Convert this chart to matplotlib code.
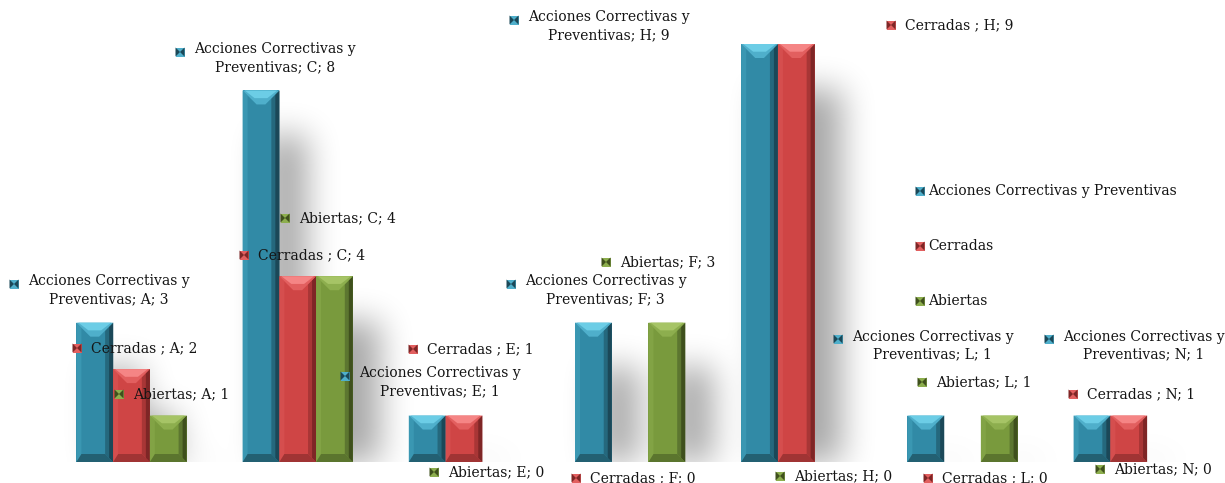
import numpy as np
import matplotlib
matplotlib.use("Agg")
import matplotlib.pyplot as plt
from matplotlib.patches import Polygon, Rectangle

# ---------------- data ----------------
categories = ['A', 'C', 'E', 'F', 'H', 'L', 'N']
series_names = ['Acciones Correctivas y Preventivas', 'Cerradas ', 'Abiertas']
acciones = [3, 8, 1, 3, 9, 1, 1]
cerradas = [2, 4, 1, 0, 9, 0, 1]
abiertas = [1, 4, 0, 3, 0, 1, 0]
series_values = [acciones, cerradas, abiertas]

# ---------------- style / layout ----------------
W, H = 1225, 483
FONT = ['DejaVu Serif']
FS = 10
palette = [
    dict(main='#318AA6', top='#4FAFCB', hi='#6CCDE6', left='#3A97B2', right='#1B4858',
         right2='#25687D', bottom='#236072'),
    dict(main='#CF4545', top='#E25F5F', hi='#F58585', left='#D54E4E', right='#7E2626',
         right2='#A83636', bottom='#A03434'),
    dict(main='#799A3D', top='#8DAE4E', hi='#A6C466', left='#82A345', right='#3F501D',
         right2='#5C7630', bottom='#5B752E'),
]
# label marker centres in image pixels (x, y), per series / category
label_pos = [
    [(14, 284), (180, 52), (345, 376), (511, 284), (514, 20), (838, 339), (1049, 339)],
    [(77, 348), (244, 255), (413, 349), (576, 478), (891, 25), (928, 478), (1073, 394)],
    [(119, 394), (285, 218), (434, 472), (606, 262), (780, 476), (922, 382), (1100, 469)],
]
legend_pos = [(920, 191), (920, 246), (920, 301)]

fig = plt.figure(figsize=(W / 100, H / 100), dpi=100)
fig.patch.set_facecolor('white')

# shadow layer
sax = fig.add_axes([0, 0, 1, 1], zorder=0)
sax.set_xlim(0, W); sax.set_ylim(H, 0); sax.axis('off')

# main axes
left_px, right_px, base_px, top_px = 48.4, 1211.8, 462, 44
ax = fig.add_axes([left_px / W, (H - base_px) / H, (right_px - left_px) / W, (base_px - top_px) / H], zorder=1)
ax.patch.set_alpha(0)
ax.set_xlim(-0.5, len(categories) - 0.5)
ax.set_ylim(0, 9)
ax.axis('off')

# bevel + label layer
lax = fig.add_axes([0, 0, 1, 1], zorder=2)
lax.patch.set_alpha(0)
lax.set_xlim(0, W); lax.set_ylim(H, 0); lax.axis('off')

x = np.arange(len(categories))
bw = 0.221
offsets = [-bw, 0, bw]


def poly(pts, col, z=1):
    lax.add_patch(Polygon(pts, closed=True, facecolor=col, edgecolor='none', zorder=z))


shadow = np.zeros((H, W))
for si, vals in enumerate(series_values):
    c = palette[si]
    bars = ax.bar(x + offsets[si], vals, width=bw, color=c['main'], linewidth=0, zorder=2)
    for b in bars:
        if b.get_height() <= 0:
            continue
        (dx0, dy0) = ax.transData.transform((b.get_x(), 0))
        (dx1, dy1) = ax.transData.transform((b.get_x() + b.get_width(), b.get_height()))
        X0, Yb = dx0, H - dy0
        X1, Yt = dx1, H - dy1
        dl, dr, db, dt = 5, 8, 8, 14
        # left strip
        poly([(X0, Yt), (X0 + dl, Yt + dl), (X0 + dl, Yb - dl), (X0, Yb)], c['left'])
        # right strips (gradient)
        poly([(X1, Yt), (X1 - dr, Yt + dr), (X1 - dr, Yb - dr), (X1, Yb)], c['right2'])
        poly([(X1, Yt), (X1 - dr / 2, Yt + dr / 2), (X1 - dr / 2, Yb - dr / 2), (X1, Yb)], c['right'])
        # bottom
        poly([(X0, Yb), (X1, Yb), (X1 - dr, Yb - db), (X0 + dl, Yb - db)], c['bottom'])
        # top (V-shaped highlight)
        poly([(X0, Yt), (X1, Yt), (X1 - dt, Yt + dt), (X0 + dt, Yt + dt)], c['top'])
        poly([(X0 + 2, Yt), (X1 - 2, Yt), (X1 - dt + 2, Yt + dt * 0.55), (X0 + dt - 2, Yt + dt * 0.55)], c['hi'])
        # shadow mask
        sx0, sx1 = int(X0 + 22), int(X1 + 28)
        sy0 = int(Yt + 45)
        shadow[max(sy0, 0):int(Yb), max(sx0, 0):min(sx1, W)] = 1.0


def box(a, r, axis):
    a = np.moveaxis(a, axis, -1)
    pad = np.pad(a, [(0, 0)] * (a.ndim - 1) + [(r + 1, r)], mode='constant')
    cs = np.cumsum(pad, axis=-1)
    out = (cs[..., 2 * r + 1:] - cs[..., :-2 * r - 1]) / (2 * r + 1)
    return np.moveaxis(out, -1, axis)


for _ in range(3):
    shadow = box(shadow, 15, 1)
    shadow = box(shadow, 15, 0)
shadow[int(base_px):, :] = 0
rgba = np.zeros((H, W, 4))
rgba[..., 3] = np.clip(shadow * 0.34, 0, 1)
sax.imshow(rgba, extent=[0, W, H, 0], interpolation='bilinear', zorder=0)


def marker(mx, my, c, s=9):
    h = s / 2
    lax.add_patch(Rectangle((mx - h, my - h), s, s, facecolor=c['top'], edgecolor='none', zorder=5))
    poly([(mx - h, my - h), (mx - h, my + h), (mx, my)], c['right'], 5)
    poly([(mx + h, my - h), (mx + h, my + h), (mx, my)], c['right'], 5)


# data labels
for si, vals in enumerate(series_values):
    name = series_names[si].replace('y Preventivas', 'y\nPreventivas')
    for ci, v in enumerate(vals):
        mx, my = label_pos[si][ci]
        marker(mx, my, palette[si])
        txt = f"{name}; {categories[ci]}; {v}"
        if '\n' in txt:
            lax.text(mx + 14, my - 9.5, txt, ha='left', va='top', multialignment='center',
                     fontsize=FS, family=FONT, linespacing=1.33, color='#141414', zorder=6)
        else:
            lax.text(mx + 14, my, txt, ha='left', va='center', fontsize=FS, family=FONT,
                     color='#141414', zorder=6)

# legend
for si, (mx, my) in enumerate(legend_pos):
    marker(mx, my, palette[si])
    lax.text(mx + 8, my, series_names[si].strip(), ha='left', va='center', fontsize=FS,
             family=FONT, color='#141414', zorder=6)

fig.savefig('out.png', dpi=100, facecolor='white')
